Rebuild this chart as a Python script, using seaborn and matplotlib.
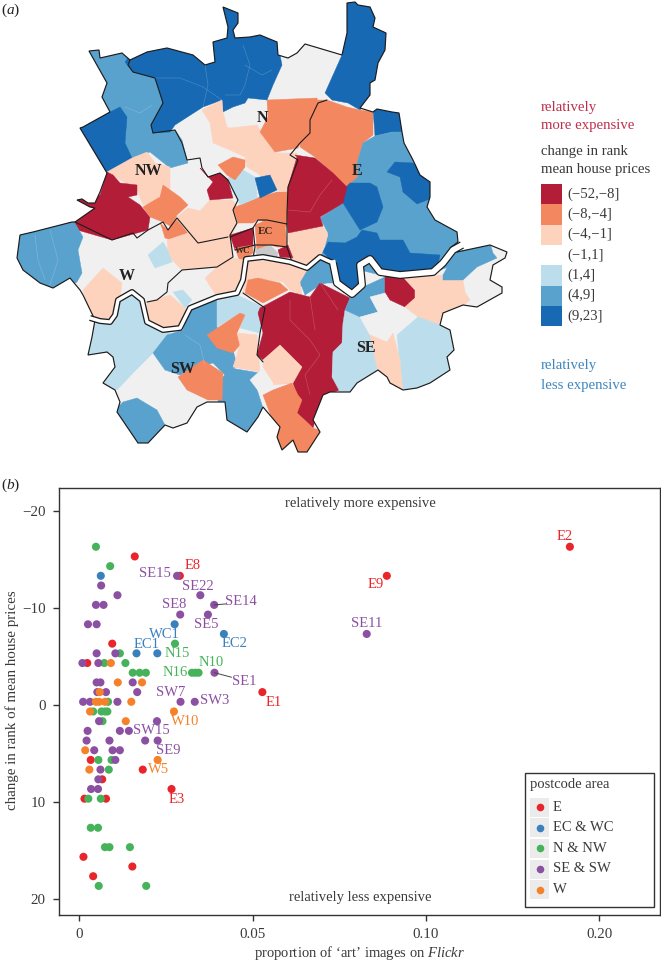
import matplotlib
matplotlib.use('Agg')
import matplotlib.pyplot as plt
from matplotlib.patches import Polygon, Rectangle
import pandas as pd
import seaborn as sns

# ---- scatter values (b): proportion of art images, change in rank
e_x = [.0160, .0290, .0095, .0023, .0528, .0033, .0183, .0066, .0266, .0015, .0077, .0012, .0153, .0040, .1415, .0887]
e_y = [-15.3, -13.3, -6.3, -4.3, -1.3, 5.7, 6.7, 7.7, 8.7, 9.7, 9.7, 15.7, 16.7, 17.7, -16.3, -13.3]
ec_x = [.0062, .0275, .0417, .0165, .0225]
ec_y = [-13.3, -8.3, -7.3, -5.3, -5.3]
n_x = [.0048, .0089, .0276, .0117, .0072, .0133, .0154, .0174, .0192, .0325, .0335, .0344, .0083, .0040,
       .0064, .0074, .0081, .0067, .0055, .0093, .0085, .0026, .0062, .0033, .0054, .0074, .0087, .0146, .0056, .0193]
n_y = [-16.3, -14.3, -6.3, -5.3, -4.3, -4.3, -3.3, -3.3, -3.3, -3.3, -3.3, -3.3, -.3, .7,
       .7, .7, .7, 1.7, 5.7, 5.7, 6.7, 9.7, 9.7, 12.7, 12.7, 14.7, 14.7, 14.7, 18.7, 18.7]
s_x = [.0282, .0063, .0110, .0349, .0048, .0070, .0389, .0291, .0371, .0025, .0050, .0829, .0050, .0104, .0009,
       .0055, .0390, .0050, .0061, .0154, .0052, .0077, .0167, .0011, .0031, .0110, .0292, .0333, .0057, .0224,
       .0024, .0117, .0143, .0021, .0087, .0190, .0226, .0043, .0096, .0117, .0104, .0061, .0055, .0034, .0054]
s_y = [-13.3, -12.3, -11.3, -11.3, -10.3, -10.3, -10.3, -9.3, -9.3, -8.3, -8.3, -7.3, -5.3, -5.3, -4.3,
       -4.3, -3.3, -2.3, -2.3, -2.3, -1.3, -1.3, -1.3, -.3, -.3, -.3, -.3, -.3, 1.7, 1.7,
       2.7, 2.7, 2.7, 3.7, 3.7, 3.7, 3.7, 4.7, 4.7, 4.7, 5.7, 6.7, 7.7, 8.7, 8.7]
w_x = [.0091, .0111, .0181, .0059, .0048, .0057, .0074, .0150, .0031, .0273, .0134, .0017, .0226, .0029]
w_y = [-4.3, -2.3, -2.3, -1.3, -.3, -.3, -.3, -.3, .7, .7, 1.7, 4.7, 5.7, 6.7]

areas = ['E', 'EC & WC', 'N & NW', 'SE & SW', 'W']
x_ticks = [0, .05, .10, .15]
x_ticklabels = ['0', '0.05', '0.10', '0.20']
y_ticks = [-20, -10, 0, 10, 20]
y_ticklabels = ['\u221220', '\u221210', '0', '10', '20']

label_names = ['E2', 'E9', 'SE11', 'E8', 'SE15', 'SE22', 'SE14', 'SE8', 'SE5', 'WC1', 'EC2', 'EC1', 'N15', 'N16', 'N10',
               'SE1', 'E1', 'SW7', 'SW3', 'W10', 'SW15', 'SE9', 'W5', 'E3']
label_x = [.1415, .0887, .0829, .0290, .0282, .0349, .0389, .0291, .0371, .0275, .0417, .0165, .0276, .0325, .0344,
           .0390, .0528, .0292, .0333, .0273, .0143, .0226, .0226, .0266]
label_y = [-16.3, -13.3, -7.3, -13.3, -13.3, -11.3, -10.3, -9.3, -9.3, -8.3, -7.3, -5.3, -6.3, -3.3, -3.3,
           -3.3, -1.3, -.3, -.3, .7, 2.7, 3.7, 5.7, 8.7]
label_area = ['E', 'E', 'SE & SW', 'E', 'SE & SW', 'SE & SW', 'SE & SW', 'SE & SW', 'SE & SW', 'EC & WC', 'EC & WC',
              'EC & WC', 'N & NW', 'N & NW', 'N & NW', 'SE & SW', 'E', 'SE & SW', 'SE & SW', 'W', 'SE & SW',
              'SE & SW', 'W', 'E']
# label offset from its point, in image pixels (right, up)
label_off = [(-5, 10), (-11, -9), (0, 10), (13, 10), (-22, 2), (-2, 9), (27, 3), (-6, 10), (-2, -10), (-10, -10),
             (11, -10), (10, 9), (2, -10), (-17, 0), (13, 10), (30, -9), (11, -10), (-10, 9), (20, 1), (11, -10),
             (22, 0), (11, -10), (1, -10), (5, -10)]

# ---- map (a): shapes, in image pixels
outer = [(223, 7), (238, 13), (238, 23), (233, 30), (235, 38), (250, 37), (260, 35), (277, 42), (278, 55), (288, 58), (297, 53),
         (305, 44), (342, 55), (347, 33), (347, 3), (355, 2), (358, 5), (370, 7), (375, 18), (373, 27), (386, 33), (385, 50),
         (378, 63), (375, 80), (370, 83), (370, 95), (360, 108), (373, 112), (377, 109), (392, 112), (399, 113), (402, 132),
         (404, 143), (413, 160), (420, 175), (430, 182), (430, 197), (427, 207), (435, 220), (457, 232), (458, 242), (450, 248),
         (457, 252), (490, 245), (507, 252), (505, 258), (493, 265), (490, 280), (502, 287), (502, 293), (477, 307), (463, 305),
         (443, 313), (440, 325), (450, 330), (454, 350), (447, 357), (450, 370), (430, 383), (417, 388), (403, 390), (390, 383),
         (387, 377), (378, 370), (357, 383), (350, 392), (340, 392), (330, 392), (323, 395), (313, 420), (320, 432), (307, 452),
         (298, 452), (293, 440), (282, 450), (277, 437), (280, 427), (263, 407), (258, 417), (247, 432), (227, 420), (225, 402),
         (207, 402), (197, 407), (187, 423), (173, 428), (165, 425), (148, 443), (138, 443), (117, 412), (120, 402), (115, 390),
         (103, 383), (115, 367), (113, 357), (107, 352), (88, 355), (92, 337), (95, 320), (83, 295), (80, 290), (70, 278),
         (53, 288), (40, 283), (23, 270), (17, 258), (20, 235), (33, 232), (72, 222), (75, 222), (95, 208), (90, 207), (77, 200),
         (82, 199), (88, 203), (95, 203), (100, 192),
         (107, 173), (80, 128), (83, 127), (110, 112), (102, 97), (107, 83), (89, 51), (99, 50), (100, 58), (122, 53), (130, 60),
         (147, 52), (167, 48), (193, 55), (205, 65), (215, 62), (213, 42), (227, 38), (228, 27)]

nw_blue = [(85, 45), (105, 45), (130, 58), (128, 65), (133, 72), (155, 78), (163, 103), (151, 125), (153, 133), (175, 130),
           (182, 140), (188, 163), (170, 168), (150, 152), (130, 160), (105, 175), (70, 130)]
nw_dark = [(70, 125), (110, 112), (120, 107), (127, 117), (125, 143), (132, 158), (110, 170), (107, 173), (85, 150)]
n_dark = [(215, 0), (245, 0), (277, 40), (282, 65), (273, 85), (267, 100), (248, 98), (245, 103), (233, 107), (223, 112),
          (222, 100), (203, 107), (175, 125), (170, 132), (153, 133), (151, 125), (163, 103), (155, 78), (133, 72),
          (125, 62), (130, 55), (167, 45), (200, 55), (210, 60)]
nw_peach = [(107, 172), (132, 158), (147, 152), (155, 163), (170, 167), (170, 190), (168, 205), (143, 205), (137, 190)]
nw_red = [(60, 225), (90, 210), (70, 195), (100, 195), (107, 172), (113, 175), (120, 183), (137, 185), (137, 195), (128, 197),
          (140, 205), (150, 217), (148, 230), (112, 240)]
nw_orange = [(163, 185), (173, 192), (180, 197), (188, 205), (177, 215), (172, 227), (163, 222), (150, 217), (143, 207), (160, 197)]
nw_orange2 = [(160, 223), (168, 230), (177, 220), (188, 233), (188, 240), (172, 240), (165, 238), (162, 228)]
west_blue = [(10, 230), (72, 218), (83, 237), (78, 250), (82, 273), (77, 282), (53, 295), (10, 265)]
w_peach = [(83, 290), (103, 268), (122, 283), (120, 300), (115, 325), (95, 325), (85, 300)]
w_light = [(148, 255), (163, 242), (170, 253), (172, 262), (155, 268)]
mid_peach = [(177, 217), (188, 208), (200, 211), (210, 200), (232, 200), (238, 207), (233, 210), (237, 225), (230, 237), (233, 257),
             (217, 267), (182, 270), (172, 260), (168, 250), (167, 240), (188, 233)]
nw_red2 = [(200, 168), (208, 177), (220, 173), (228, 180), (233, 198), (210, 200), (207, 190), (213, 182)]
n_peach = [(202, 110), (222, 100), (223, 112), (227, 127), (230, 128), (257, 125), (262, 133), (277, 153), (297, 153), (298, 167),
           (287, 192), (277, 190), (257, 173), (247, 167), (245, 157), (230, 150), (213, 143), (210, 123)]
n_orange = [(267, 100), (317, 98), (318, 103), (310, 120), (310, 133), (300, 143), (298, 148), (275, 152), (260, 132), (268, 117)]
e_dark = [(347, 0), (365, 0), (395, 30), (385, 50), (375, 80), (370, 95), (360, 110), (348, 103), (332, 100), (325, 93), (342, 55)]
e_orange = [(318, 100), (327, 100), (347, 107), (360, 110), (373, 112), (373, 135), (363, 143), (357, 163), (358, 177), (347, 187),
            (333, 173), (315, 157), (300, 147), (300, 143), (310, 133), (310, 120)]
ne_dark = [(373, 108), (405, 108), (402, 132), (392, 132), (375, 136)]
e_blue = [(363, 143), (375, 136), (392, 132), (402, 132), (420, 170), (440, 190), (470, 235), (470, 260), (440, 270), (400, 280), (360, 270),
          (325, 262), (320, 257), (325, 247), (328, 233), (320, 218), (343, 202), (343, 190), (358, 177), (357, 163)]
e_dark2 = [(387, 172), (395, 162), (413, 163), (435, 182), (435, 197), (417, 204), (403, 192), (400, 177)]
e_dark3 = [(343, 190), (350, 183), (370, 183), (377, 187), (383, 207), (377, 222), (360, 230), (343, 203)]
river_dark = [(323, 252), (328, 242), (345, 243), (357, 237), (362, 230), (377, 233), (380, 240), (403, 240), (410, 253), (440, 255),
              (438, 265), (430, 272), (403, 277), (390, 275), (377, 267), (370, 257), (358, 267), (362, 287), (353, 295), (343, 292),
              (337, 283), (333, 263)]
s_blue = [(292, 277), (297, 272), (308, 270), (320, 258), (333, 263), (337, 283), (327, 283), (320, 285), (305, 295), (302, 287)]
e_peach = [(288, 235), (296, 226), (320, 220), (328, 235), (323, 250), (320, 257), (305, 268), (293, 262), (290, 250)]
e_red = [(287, 213), (288, 187), (297, 157), (295, 155), (315, 158), (333, 173), (347, 187), (343, 203), (320, 217), (323, 226), (288, 233)]
c_orange = [(233, 208), (257, 198), (277, 192), (287, 192), (287, 227), (258, 220), (253, 223), (238, 223)]
n_light = [(228, 178), (243, 170), (255, 177), (257, 193), (257, 198), (240, 205), (233, 192)]
n_dark2 = [(255, 178), (270, 175), (277, 190), (260, 198)]
n_orange2 = [(218, 165), (233, 157), (245, 160), (245, 167), (235, 180), (227, 175)]
wc_red = [(230, 235), (253, 228), (253, 247), (235, 250)]
wc_orange = [(235, 248), (253, 245), (253, 253), (240, 262)]
ec_orange = [(255, 225), (267, 220), (285, 222), (287, 247), (277, 247), (270, 245), (257, 250)]
ec_grey = [(255, 250), (270, 245), (278, 253), (277, 257), (257, 255)]
ec_red = [(278, 250), (288, 245), (293, 258), (280, 257)]
se_peach = [(248, 260), (290, 262), (307, 270), (300, 282), (302, 295), (290, 290), (283, 282), (257, 278), (243, 293)]
se_orange = [(248, 280), (258, 278), (280, 283), (288, 290), (263, 303), (245, 293)]
sw_peach = [(205, 278), (217, 267), (233, 258), (245, 260), (243, 280), (238, 292), (217, 297)]
sw_peach2 = [(147, 302), (170, 295), (185, 308), (187, 320), (180, 328), (160, 327), (148, 320)]
sw_light = [(173, 292), (183, 290), (192, 300), (185, 308)]
sw_light2 = [(85, 322), (100, 320), (117, 317), (118, 300), (132, 292), (142, 300), (147, 322), (170, 333), (153, 353), (133, 373),
             (117, 390), (100, 383), (115, 367), (113, 357), (85, 358)]
sw_blue = [(167, 335), (183, 330), (190, 308), (217, 300), (217, 327), (233, 350), (237, 365), (227, 377), (213, 363), (197, 367),
           (180, 375), (165, 370), (153, 353)]
sw_light3 = [(217, 300), (237, 295), (265, 308), (260, 333), (240, 328), (245, 315), (240, 313), (217, 327)]
sw_orange = [(207, 335), (240, 313), (245, 315), (237, 333), (240, 345), (233, 353), (217, 348)]
sw_peach3 = [(237, 333), (257, 335), (260, 372), (233, 367), (240, 345)]
s_blue2 = [(223, 377), (230, 368), (260, 373), (255, 383), (263, 408), (258, 425), (247, 440), (220, 425), (218, 400)]
sw_orange2 = [(178, 377), (203, 360), (223, 373), (222, 400), (208, 400), (187, 390)]
sw_blue2 = [(110, 415), (123, 402), (137, 398), (157, 410), (165, 425), (148, 448), (135, 448)]
se_red = [(260, 308), (290, 292), (310, 297), (320, 283), (350, 298), (345, 310), (350, 322), (343, 323), (342, 343), (333, 352),
          (332, 377), (340, 390), (330, 393), (322, 397), (313, 428), (297, 413), (298, 398), (293, 383), (280, 383), (302, 367),
          (280, 345), (263, 360), (257, 355), (263, 333), (258, 313)]
se_peach2 = [(263, 360), (280, 345), (302, 367), (293, 383), (273, 385), (263, 367)]
se_grey = [(250, 380), (263, 368), (273, 383), (273, 390), (260, 393)]
s_orange = [(263, 395), (273, 390), (292, 383), (298, 395), (302, 400), (297, 413), (313, 428), (325, 432), (310, 458), (295, 458),
            (293, 440), (282, 455), (270, 437), (275, 427)]
se_light = [(345, 310), (360, 317), (370, 335), (380, 367), (357, 390), (347, 395), (340, 392), (332, 377), (333, 352), (342, 343), (343, 323)]
se_blue = [(345, 310), (350, 298), (363, 287), (385, 277), (385, 293), (370, 297), (378, 312), (360, 317)]
se_grey2 = [(360, 317), (378, 312), (370, 297), (385, 293), (403, 308), (418, 317), (397, 335), (393, 333), (387, 342), (370, 335)]
se_red2 = [(385, 277), (403, 277), (415, 290), (415, 298), (405, 307), (390, 300), (385, 292)]
se_peach3 = [(403, 277), (443, 275), (463, 280), (465, 292), (470, 300), (458, 310), (443, 316), (440, 328), (418, 317), (405, 307),
             (415, 298), (415, 290)]
se_blue2 = [(443, 280), (443, 275), (457, 250), (490, 243), (493, 253), (497, 258), (477, 267), (463, 280)]
se_light2 = [(440, 325), (418, 317), (397, 335), (403, 395), (430, 388), (455, 372), (465, 350), (458, 328)]
se_peach4 = [(370, 335), (387, 342), (393, 333), (400, 360), (403, 395), (390, 385), (378, 372)]

RED, ORANGE, PEACH, GREY, LIGHT, BLUE, DARK = '#B41D38', '#F3875F', '#FDD3BE', '#F0F0F1', '#BCDEEC', '#5AA2CE', '#1769B3'
map_regions = [(nw_blue, BLUE), (nw_dark, DARK), (n_dark, DARK), (nw_peach, PEACH), (nw_red, RED), (nw_orange, ORANGE),
               (nw_orange2, ORANGE), (west_blue, BLUE), (w_peach, PEACH), (w_light, LIGHT), (mid_peach, PEACH), (nw_red2, RED),
               (n_peach, PEACH), (n_orange, ORANGE), (e_dark, DARK), (e_orange, ORANGE), (ne_dark, DARK), (e_blue, BLUE),
               (e_dark2, DARK), (e_dark3, DARK), (river_dark, DARK), (s_blue, BLUE), (e_peach, PEACH), (e_red, RED),
               (c_orange, ORANGE), (n_light, LIGHT), (n_dark2, DARK), (n_orange2, ORANGE), (wc_red, RED), (wc_orange, ORANGE),
               (ec_orange, ORANGE), (ec_grey, '#C8C9CB'), (ec_red, RED), (se_peach, PEACH), (se_orange, ORANGE), (sw_peach, PEACH),
               (sw_peach2, PEACH), (sw_light, LIGHT), (sw_light2, LIGHT), (sw_blue, BLUE), (sw_light3, LIGHT), (sw_orange, ORANGE),
               (sw_peach3, PEACH), (s_blue2, BLUE), (sw_orange2, ORANGE), (sw_blue2, BLUE), (se_red, RED), (se_peach2, PEACH),
               (se_grey, GREY), (s_orange, ORANGE), (se_light, LIGHT), (se_blue, BLUE), (se_grey2, GREY), (se_red2, RED),
               (se_peach3, PEACH), (se_blue2, BLUE), (se_light2, LIGHT), (se_peach4, PEACH)]

# dark district borders and the faint ward lines inside them
borders = [[(130, 60), (128, 65), (133, 72), (155, 78), (163, 103), (151, 125), (153, 133), (175, 130), (182, 143), (187, 160),
            (200, 158), (202, 168), (208, 177), (220, 173), (228, 180), (238, 200), (233, 210), (237, 223), (230, 235), (233, 257),
            (217, 267), (182, 270), (168, 283), (167, 292), (157, 300), (147, 302)],
           [(230, 237), (253, 228), (258, 220), (267, 220), (287, 224)],
           [(253, 228), (255, 247), (253, 258)],
           [(235, 250), (255, 245), (272, 245), (287, 247)],
           [(327, 100), (318, 103), (310, 120), (310, 133), (300, 143), (290, 155), (298, 160), (288, 187), (287, 213), (287, 247), (292, 262)],
           [(75, 222), (112, 240), (133, 233), (137, 238), (148, 230), (163, 222), (168, 230), (177, 218), (198, 243), (228, 237)],
           [(243, 293), (265, 308), (260, 333), (257, 355), (263, 362)]]
ward_lines = [[(205, 65), (208, 85), (203, 107)], [(155, 78), (180, 78), (203, 87), (222, 100)],
              [(243, 45), (250, 65), (245, 85), (240, 95), (225, 95)], [(245, 65), (262, 75), (272, 70)],
              [(35, 235), (38, 260), (45, 280)], [(50, 230), (58, 260), (50, 285)], [(125, 107), (140, 113), (152, 105)],
              [(290, 300), (290, 320), (310, 340), (320, 355), (305, 375), (310, 395)], [(310, 297), (315, 330)],
              [(320, 283), (338, 310)], [(288, 210), (310, 212), (320, 195), (332, 180)], [(185, 335), (200, 345), (205, 365)]]
thames_west = [(90, 318), (100, 321), (110, 322), (115, 315), (118, 300), (132, 292), (142, 300), (147, 322), (163, 330), (180, 328),
               (190, 308), (217, 297), (237, 293), (243, 280), (246, 259), (263, 257), (290, 262), (307, 268), (320, 257), (333, 263)]
thames_east = [(333, 263), (337, 283), (352, 294), (362, 285), (360, 265), (370, 259), (380, 272), (400, 275), (433, 272), (443, 263),
               (453, 250), (462, 245)]

legend_bins = ['(\u221252,\u22128]', '(\u22128,\u22124]', '(\u22124,\u22121]', '(\u22121,1]', '(1,4]', '(4,9]', '(9,23]']
legend_cols = [RED, ORANGE, PEACH, 'white', LIGHT, BLUE, DARK]
map_labels = {'N': (262, 118), 'NW': (148, 171), 'E': (357, 171), 'W': (127, 276), 'SW': (183, 369), 'SE': (366, 348)}

sns.set_theme(style='ticks', font='Liberation Serif')
plt.rcParams['mathtext.fontset'] = 'custom'
plt.rcParams['mathtext.rm'] = 'Liberation Serif'
plt.rcParams['mathtext.it'] = 'Liberation Serif:italic'
TXT = '#3a3a3a'
PX = 0.72  # one image pixel in points at dpi 100

fig = plt.figure(figsize=(6.61, 9.61), dpi=100)

# ---- panel b
left, right, top, bottom = 58.7, 660.3, 487.7, 914.7
ax_b = fig.add_axes([left / 661, 1 - bottom / 961, (right - left) / 661, (bottom - top) / 961])
df = pd.DataFrame({'x': e_x + ec_x + n_x + s_x + w_x, 'y': e_y + ec_y + n_y + s_y + w_y,
                   'area': ['E'] * len(e_x) + ['EC & WC'] * len(ec_x) + ['N & NW'] * len(n_x)
                   + ['SE & SW'] * len(s_x) + ['W'] * len(w_x)})
pal = dict(zip(areas, ['#E9242B', '#3A80BC', '#46B35A', '#8C50A3', '#F5822A']))
sns.scatterplot(data=df, x='x', y='y', hue='area', palette=pal, hue_order=areas, s=34, linewidth=0, legend=False, ax=ax_b)
ax_b.set_xlim(-20.6 / 3467, 581 / 3467)
ax_b.set_ylim((bottom - 704.7) / 9.69, (top - 704.7) / 9.69)
ax_b.set_xticks(x_ticks, x_ticklabels)
ax_b.set_yticks(y_ticks, y_ticklabels)
ax_b.tick_params(length=6 * PX, width=1, color='#333333', labelcolor=TXT, labelsize=10.8, pad=5)
ax_b.set_xlabel('')
ax_b.set_ylabel('')
for s in ax_b.spines.values():
    s.set_visible(True)
    s.set_color('#333333')
    s.set_linewidth(1.0)

for name, x, y, off, area in zip(label_names, label_x, label_y, label_off, label_area):
    ax_b.annotate(name, (x, y), xytext=(off[0] * PX, off[1] * PX), textcoords='offset points', color=pal[area],
                  fontsize=10.5, ha='center', va='center')
# two labels sit far enough out to get a leader line
ax_b.annotate('', (.0389, -10.3), xytext=(8 * PX * 1.5, 1 * PX), textcoords='offset points',
              arrowprops=dict(arrowstyle='-', color='#444444', lw=0.7, shrinkA=0, shrinkB=0))
ax_b.annotate('', (.0390, -3.3), xytext=(17 * PX, -4.5 * PX), textcoords='offset points',
              arrowprops=dict(arrowstyle='-', color='#444444', lw=0.7, shrinkA=0, shrinkB=0))

# ---- panel a, everything on a full figure overlay in image pixels
ov = fig.add_axes([0, 0, 1, 1], zorder=3)
ov.set_xlim(0, 661)
ov.set_ylim(961, 0)
ov.axis('off')

base = Polygon(outer, closed=True, facecolor=GREY, edgecolor='none')
ov.add_patch(base)
for pts, col in map_regions:
    p = Polygon(pts, closed=True, facecolor=col, edgecolor=col, linewidth=0.3)
    ov.add_patch(p)
    p.set_clip_path(base)
for ln in ward_lines:
    xs, ys = zip(*ln)
    ov.plot(xs, ys, color='white', lw=0.4, alpha=0.25, solid_joinstyle='round')
for ln in borders:
    xs, ys = zip(*ln)
    ov.plot(xs, ys, color='#1c1c1c', lw=0.8, solid_joinstyle='round')
ov.add_patch(Polygon(outer, closed=True, facecolor='none', edgecolor='#1c1c1c', linewidth=0.85))
for river, wide, inner in [(thames_west, 6, 3.4), (thames_east, 8, 5.6)]:
    xs, ys = zip(*river)
    ov.plot(xs, ys, color='#1c1c1c', lw=wide * PX, solid_capstyle='butt', solid_joinstyle='round')
    ov.plot(xs, ys, color='white', lw=inner * PX, solid_capstyle='projecting', solid_joinstyle='round')

for name, (x, y) in map_labels.items():
    ov.text(x, y, name, fontsize=11.5, fontweight='bold', color='#222222', ha='center', va='center')
ov.text(266, 232, 'EC', fontsize=8, fontweight='bold', color='#3a2a20', ha='center', va='center')
ov.text(243, 251, 'WC', fontsize=6.5, fontweight='bold', color='#3a2a20', ha='center', va='center')

ov.text(1, 10, '($\\mathit{a}$)', fontsize=11, color='#222222', va='center')
ov.text(1, 485, '($\\mathit{b}$)', fontsize=11, color='#222222', va='center')

# map legend
tsize = 10.6
ov.text(541, 107, 'relatively', color='#BE2F4C', fontsize=tsize, va='center')
ov.text(541, 126, 'more expensive', color='#BE2F4C', fontsize=tsize, va='center')
ov.text(541, 151, 'change in rank', color=TXT, fontsize=tsize, va='center')
ov.text(541, 169, 'mean house prices', color=TXT, fontsize=tsize, va='center')
ov.text(541, 366, 'relatively', color='#3F86BE', fontsize=tsize, va='center')
ov.text(541, 385, 'less expensive', color='#3F86BE', fontsize=tsize, va='center')
for i, (lab, col) in enumerate(zip(legend_bins, legend_cols)):
    y0 = 184 + i * 20.33
    ov.add_patch(Rectangle((541, y0), 21, 20.33, facecolor=col, edgecolor='none'))
    ov.text(567, y0 + 10, lab, color=TXT, fontsize=tsize, va='center')

# panel b texts
ov.text(360, 503, 'relatively more expensive', color=TXT, fontsize=10.5, ha='center', va='center')
ov.text(360, 898, 'relatively less expensive', color=TXT, fontsize=10.5, ha='center', va='center')
ov.text(360, 953, 'proportion of \u2018art\u2019 images on $\\mathit{Flickr}$', color=TXT, fontsize=10.5, ha='center', va='center')
ov.text(12, 700, 'change in rank of mean house prices', color=TXT, fontsize=10.8, rotation=90, ha='center', va='center')

# postcode legend, ggplot style keys
ov.add_patch(Rectangle((524.5, 773), 129.5, 133.7, facecolor='white', edgecolor='#333333', linewidth=1.0))
ov.text(530, 784.5, 'postcode area', color=TXT, fontsize=10.5, va='center')
for i, a in enumerate(areas):
    y0 = 797.7 + i * 20.6
    ov.add_patch(Rectangle((530, y0), 19, 19, facecolor='#EBEBEB', edgecolor='none'))
    ov.scatter([539.5], [y0 + 9.5], s=30, color=pal[a], linewidth=0)
    ov.text(553, y0 + 9.5, a, color=TXT, fontsize=10.5, va='center')
ov.set_xlim(0, 661)
ov.set_ylim(961, 0)

fig.savefig('out.png', dpi=100)
